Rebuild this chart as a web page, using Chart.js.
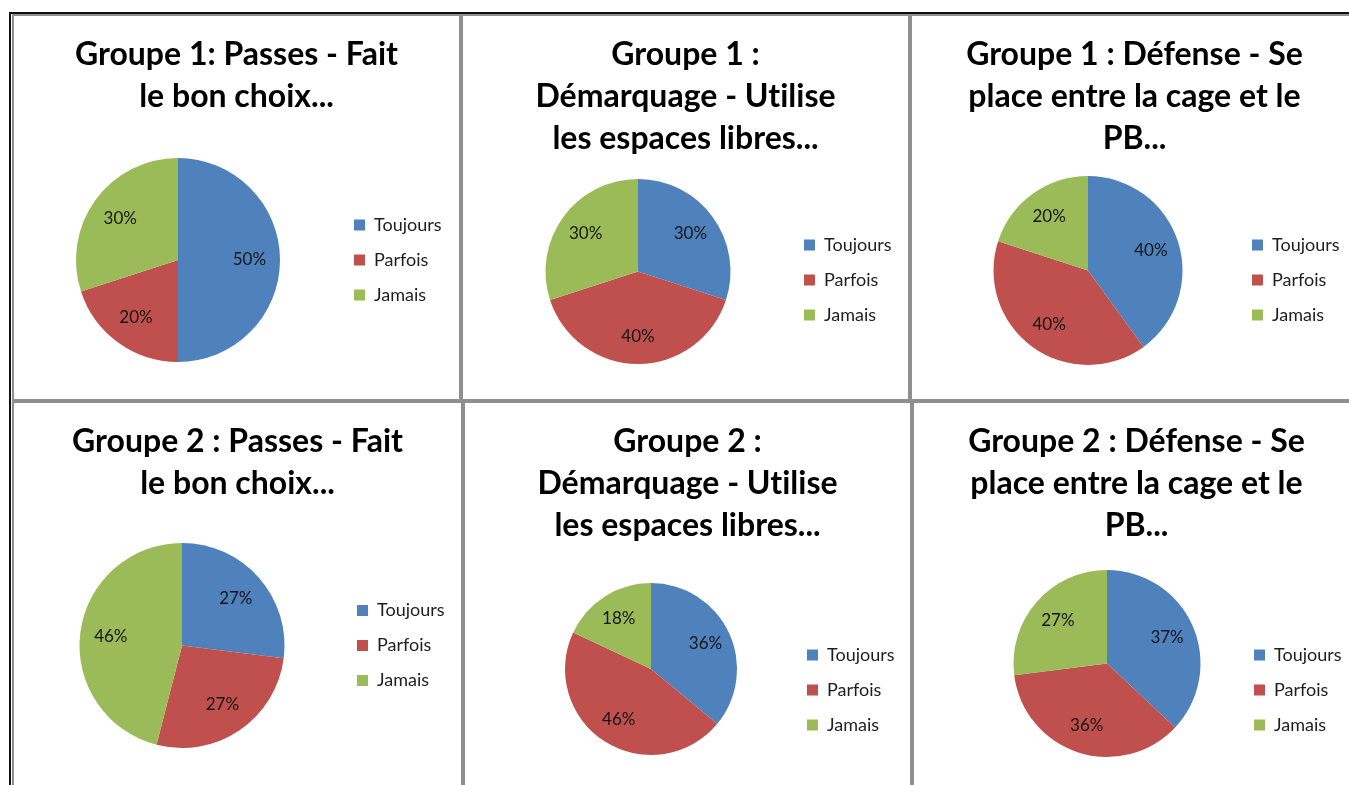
<!DOCTYPE html>
<html lang="fr">
<head>
<meta charset="utf-8">
<title>Groupes 1 et 2 : Passes, Démarquage, Défense</title>
<script src="https://cdn.jsdelivr.net/npm/chart.js@4.4.1/dist/chart.umd.min.js"></script>
<style>
  body { margin: 0; background: #fff; width: 1349px; height: 785px; overflow: hidden; position: relative; font-family: Lato, sans-serif; }
  #cadre { position: absolute; left: 9px; top: 12px; width: 1400px; height: 800px; border-top: 2px solid #111; border-left: 2px solid #111; }
  .case { position: absolute; box-sizing: border-box; border: 2px solid #8f8f8f; background: #fff; }
  .case canvas { position: absolute; left: 0; top: 0; }
  .titre { position: absolute; left: 0; right: 0; top: 16px; text-align: center; font-weight: 700; font-size: 32px; line-height: 42px; color: #000; font-variant-ligatures: none; }
</style>
</head>
<body>
<div id="cadre"></div>
<script>
const categories = ['Toujours', 'Parfois', 'Jamais'];
const couleurs = ['#4F81BD', '#C0504D', '#9BBB59'];

const titres = [
  ['Groupe 1: Passes - Fait', 'le bon choix...'],
  ['Groupe 1 :', 'Démarquage - Utilise', 'les espaces libres...'],
  ['Groupe 1 : Défense - Se', 'place entre la cage et le', 'PB...'],
  ['Groupe 2 : Passes - Fait', 'le bon choix...'],
  ['Groupe 2 :', 'Démarquage - Utilise', 'les espaces libres...'],
  ['Groupe 2 : Défense - Se', 'place entre la cage et le', 'PB...']
];

// pourcentages Toujours / Parfois / Jamais
const g1Passes = [50, 20, 30];
const g1Demarquage = [30, 40, 30];
const g1Defense = [40, 40, 20];
const g2Passes = [27, 27, 46];
const g2Demarquage = [36, 46, 18];
const g2Defense = [37, 36, 27];
const series = [g1Passes, g1Demarquage, g1Defense, g2Passes, g2Demarquage, g2Defense];

// mise en page des cases (px, relatif à l'intérieur de la case)
const cases = [
  { x: 12,  y: 14,  w: 449, h: 387, haut: 142, bas: 346, cx: 164, legX: 340, decal: 0 },
  { x: 461, y: 14,  w: 449, h: 387, haut: 163, bas: 348, cx: 175, legX: 341, decal: 17 },
  { x: 910, y: 14,  w: 449, h: 387, haut: 160, bas: 349, cx: 176, legX: 340, decal: 19 },
  { x: 12,  y: 401, w: 451, h: 400, haut: 140, bas: 345, cx: 168, legX: 343, decal: 0 },
  { x: 463, y: 401, w: 449, h: 400, haut: 180, bas: 352, cx: 186, legX: 342, decal: 42 },
  { x: 912, y: 401, w: 449, h: 400, haut: 167, bas: 354, cx: 193, legX: 340, decal: 53 }
];

const tailleLegende = 18;
const espaceLegende = 17;
const carre = 11;

const mesure = document.createElement('canvas').getContext('2d');
mesure.font = tailleLegende + 'px Lato';
const texteMax = Math.max(...categories.map(c => mesure.measureText(c).width));

const etiquettes = {
  id: 'etiquettes',
  afterDatasetsDraw(chart) {
    const ctx = chart.ctx;
    const valeurs = chart.data.datasets[0].data;
    chart.getDatasetMeta(0).data.forEach((arc, i) => {
      const p = arc.getProps(['x', 'y', 'startAngle', 'endAngle', 'outerRadius']);
      const a = (p.startAngle + p.endAngle) / 2;
      const r = p.outerRadius * 0.7;
      ctx.save();
      ctx.font = '17px Lato';
      ctx.fillStyle = '#151515';
      ctx.textAlign = 'center';
      ctx.textBaseline = 'middle';
      ctx.fillText(valeurs[i] + '%', p.x + Math.cos(a) * r, p.y + Math.sin(a) * r);
      ctx.restore();
    });
  }
};

cases.forEach((c, k) => {
  const div = document.createElement('div');
  div.className = 'case';
  div.style.left = c.x + 'px';
  div.style.top = c.y + 'px';
  div.style.width = c.w + 'px';
  div.style.height = c.h + 'px';

  const W = c.w - 4, H = c.h - 4;
  const canvas = document.createElement('canvas');
  canvas.width = W;
  canvas.height = H;
  div.appendChild(canvas);

  const titre = document.createElement('div');
  titre.className = 'titre';
  titre.innerHTML = titres[k].join('<br>');
  div.appendChild(titre);
  document.body.appendChild(div);

  const largeurLegende = espaceLegende + carre + tailleLegende / 2 + texteMax + 10;
  const gaucheLegende = c.legX - espaceLegende;

  new Chart(canvas, {
    type: 'pie',
    data: {
      labels: categories,
      datasets: [{
        data: series[k],
        backgroundColor: couleurs,
        borderWidth: 0
      }]
    },
    options: {
      responsive: false,
      animation: false,
      layout: {
        padding: {
          top: c.haut,
          bottom: H - c.bas,
          left: 2 * c.cx - gaucheLegende,
          right: W - gaucheLegende - largeurLegende
        }
      },
      plugins: {
        tooltip: { enabled: false },
        legend: {
          position: 'right',
          title: { display: c.decal > 0, text: '', font: { size: 1, lineHeight: 1 }, padding: { top: c.decal - 1, bottom: 0 } },
          labels: {
            boxWidth: carre,
            boxHeight: carre,
            padding: espaceLegende,
            color: '#1e1e1e',
            font: { family: 'Lato', size: tailleLegende }
          }
        }
      }
    },
    plugins: [etiquettes]
  });
});
</script>
</body>
</html>
